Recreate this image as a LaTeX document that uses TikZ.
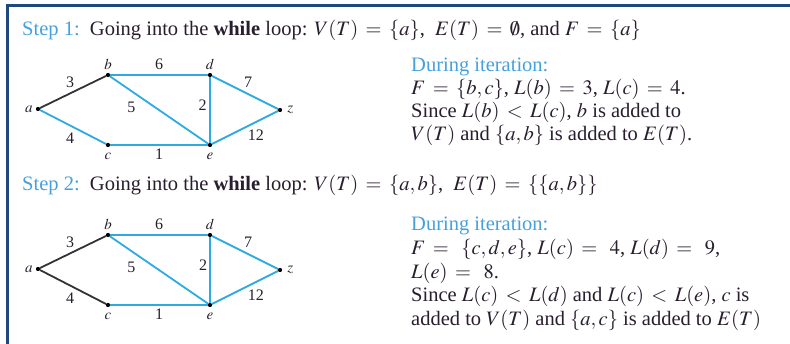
\documentclass[tikz,border=0pt]{standalone}
\usepackage{mathptmx}
\usepackage[no-math]{fontspec}
\setmainfont{Liberation Serif}
\usetikzlibrary{positioning}
\definecolor{edgeblue}{RGB}{45,170,225}
\definecolor{stepblue}{RGB}{70,160,220}
\definecolor{frameblue}{RGB}{31,73,125}
\definecolor{inktext}{RGB}{40,30,45}
\thickmuskip=6.5mu plus 2mu
\tikzset{
  vertex/.style={circle, fill=black, inner sep=0pt, minimum size=4pt},
  vlabel/.style={font=\fontsize{15}{15}\selectfont, text=inktext, inner sep=1pt},
  wlabel/.style={font=\fontsize{16}{16}\selectfont, text=inktext, inner sep=2pt},
  blueedge/.style={edgeblue, line width=1.8pt},
  treeedge/.style={black!80, line width=1.8pt},
  body/.style={font=\fontsize{20.5}{22.8}\selectfont, text=inktext, align=left, inner sep=0pt},
}
\begin{document}
\begin{tikzpicture}[x=1pt,y=-1pt]
  \useasboundingbox (0,0) rectangle (790,344);
  \draw[frameblue, line width=3pt] (790,6) -- (7,6) -- (7,344);
  % headings of the two steps
  \node[body, anchor=west] (head1) at (22,30)
    {\textcolor{stepblue}{Step 1:}\enspace Going into the \textbf{while} loop: $V(T)=\{a\}$,\ \ $E(T)=\emptyset$, and $F=\{a\}$};
  \node[body, anchor=west] (head2) at (22,185)
    {\textcolor{stepblue}{Step 2:}\enspace Going into the \textbf{while} loop: $V(T)=\{a,b\}$,\ \ $E(T)=\{\{a,b\}\}$};
  % what happens during the iteration
  \node[body, anchor=north west] (iter1) at (411,58)
    {\textcolor{stepblue}{During iteration:}\\
     $F=\{b,c\}$,\ $L(b)=3$,\ $L(c)=4$.\\
     Since $L(b)<L(c)$,\ $b$ is added to\\
     $V(T)$ and $\{a,b\}$ is added to $E(T)$.};
  \node[body, anchor=north west, font=\fontsize{20.5}{23.7}\selectfont] (iter2) at (411,217)
    {\textcolor{stepblue}{During iteration:}\\
     $F=\ \{c,d,e\}$,\ $L(c)=\ 4$,\ $L(d)=\ 9$,\\
     $L(e)=\ 8$.\\
     Since $L(c)<L(d)$ and $L(c)<L(e)$, $c$\ is\\
     added to $V(T)$ and $\{a,c\}$ is added to $E(T)$};
  % the graph, once for each step
  \foreach \s/\dy/\acstyle/\dewidth in {1/0/blueedge/2.8pt, 2/160/treeedge/1.8pt} {
    \begin{scope}[yshift=-\dy pt]
      \node[vertex] (a\s) at (38,109) {};
      \node[vertex] (b\s) at (108,75) {};
      \node[vertex] (d\s) at (210,75) {};
      \node[vertex] (z\s) at (280,110) {};
      \node[vertex] (c\s) at (108,145) {};
      \node[vertex] (e\s) at (210,145) {};
      \node[vlabel, left=2pt of a\s] (la\s) {$a$};
      \node[vlabel, above=2pt of b\s] (lb\s) {$b$};
      \node[vlabel, above=2pt of d\s] (ld\s) {$d$};
      \node[vlabel, right=4pt of z\s] (lz\s) {$z$};
      \node[vlabel, below=5pt of c\s] (lc\s) {$c$};
      \node[vlabel, below=5pt of e\s] (le\s) {$e$};
      \draw[treeedge] (a\s) -- node[wlabel, above=1pt, xshift=-3pt] {3} (b\s);
      \draw[\acstyle] (a\s) -- node[wlabel, below=3pt, xshift=-3pt] {4} (c\s);
      \draw[blueedge] (b\s) -- node[wlabel, above=2pt] {6} (d\s);
      \draw[blueedge] (b\s) -- node[wlabel, pos=0.25, below=6pt, xshift=-3pt] {5} (e\s);
      \draw[blueedge, line width=\dewidth] (d\s) -- node[wlabel, pos=0.42, left] {2} (e\s);
      \draw[blueedge] (d\s) -- node[wlabel, above=2pt, xshift=3pt] {7} (z\s);
      \draw[blueedge] (c\s) -- node[wlabel, below=1pt] {1} (e\s);
      \draw[blueedge] (e\s) -- node[wlabel, below right] {12} (z\s);
      % dots on top of the lines
      \foreach \v in {a,b,c,d,e,z} \fill (\v\s) circle (2pt);
    \end{scope}
  }
\end{tikzpicture}
\end{document}
